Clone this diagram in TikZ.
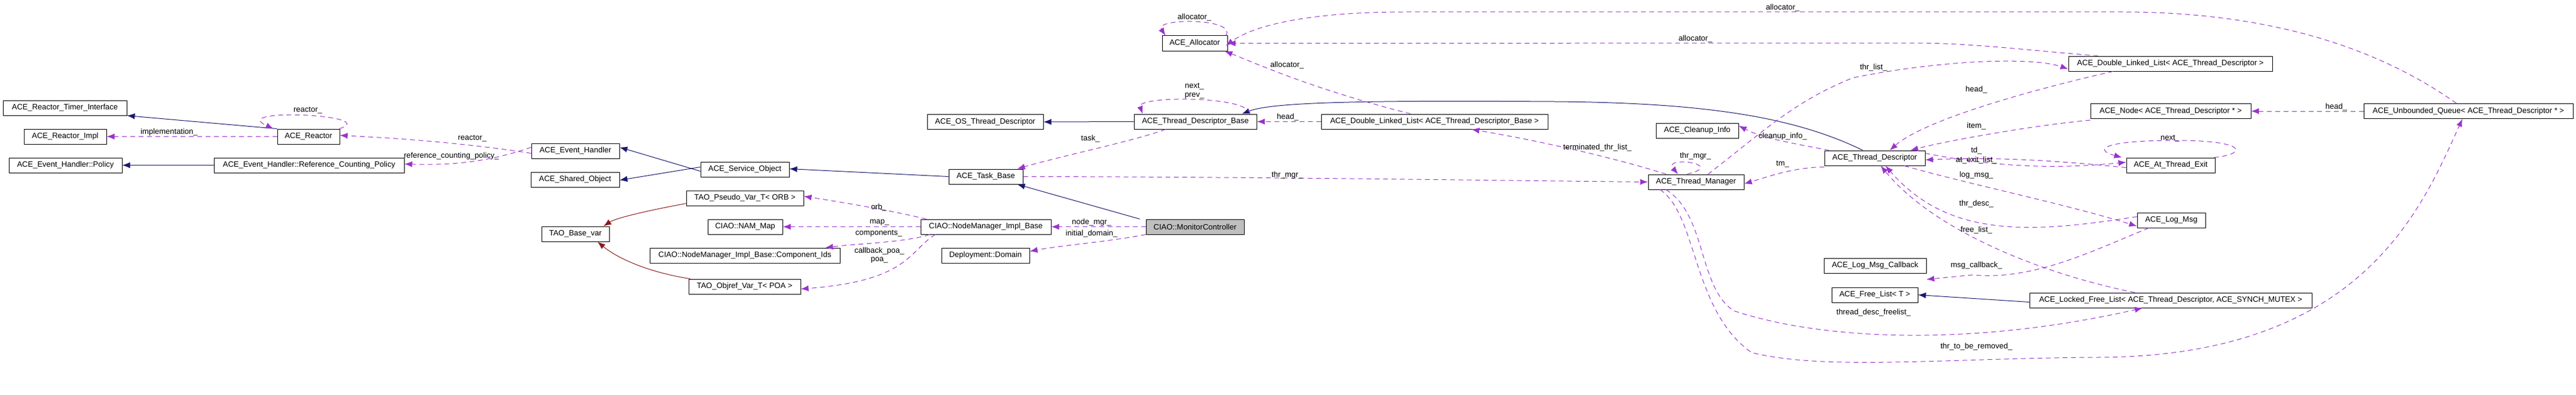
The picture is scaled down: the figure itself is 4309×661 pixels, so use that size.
\documentclass[tikz,border=0pt]{standalone}
\usepackage{fontspec}
\setmainfont{Liberation Sans}
\usetikzlibrary{arrows.meta}
\definecolor{inhc}{RGB}{25,25,112}
\definecolor{tplc}{RGB}{139,26,26}
\definecolor{usec}{RGB}{154,50,205}
\begin{document}
\begin{tikzpicture}[x=1pt,y=-1pt,
  cls/.style={draw,line width=1pt,minimum height=25pt,inner sep=0pt,font=\fontsize{13}{15}\selectfont},
  lbl/.style={inner sep=0pt,font=\fontsize{13}{15}\selectfont},
  inh/.style={draw=inhc,line width=1pt,-{Latex[length=13pt,width=10pt]}},
  tpl/.style={draw=tplc,line width=1pt,-{Latex[length=13pt,width=10pt]}},
  uses/.style={draw=usec,line width=1pt,dash pattern=on 8pt off 6pt,-{Latex[length=13pt,width=10pt]}}]
\useasboundingbox (0,0) rectangle (4309,661);
% classes
\node[cls,minimum width=207pt] (timer) at (108.5,180.5) {ACE\_Reactor\_Timer\_Interface};
\node[cls,minimum width=138pt] (rimpl) at (109,228.5) {ACE\_Reactor\_Impl};
\node[cls,minimum width=104pt] (reactor) at (516,228.5) {ACE\_Reactor};
\node[cls,minimum width=189pt] (policy) at (109.5,276.5) {ACE\_Event\_Handler::Policy};
\node[cls,minimum width=318pt] (rcp) at (517,276.5) {ACE\_Event\_Handler::Reference\_Counting\_Policy};
\node[cls,minimum width=147pt] (evh) at (962.5,252.5) {ACE\_Event\_Handler};
\node[cls,minimum width=148pt] (shared) at (962,300.5) {ACE\_Shared\_Object};
\node[cls,minimum width=148pt] (svc) at (1246,283.5) {ACE\_Service\_Object};
\node[cls,minimum width=194pt] (osdesc) at (1648,204) {ACE\_OS\_Thread\_Descriptor};
\node[cls,minimum width=124pt] (task) at (1649,295.5) {ACE\_Task\_Base};
\node[cls,minimum width=196pt] (pseudo) at (1246,331.5) {TAO\_Pseudo\_Var\_T< ORB >};
\node[cls,minimum width=113pt] (basevar) at (962.5,391.5) {TAO\_Base\_var};
\node[cls,minimum width=125pt] (nam) at (1246.5,379.5) {CIAO::NAM\_Map};
\node[cls,minimum width=318pt] (compids) at (1246,427.5) {CIAO::NodeManager\_Impl\_Base::Component\_Ids};
\node[cls,minimum width=187pt] (objref) at (1245.5,479.5) {TAO\_Objref\_Var\_T< POA >};
\node[cls,minimum width=218pt] (nmib) at (1649,379.5) {CIAO::NodeManager\_Impl\_Base};
\node[cls,minimum width=147pt] (domain) at (1648.5,427.5) {Deployment::Domain};
\node[cls,minimum width=164pt,fill=black!25] (mc) at (1999,379.5) {CIAO::MonitorController};
\node[cls,minimum width=109pt] (alloc) at (1998.5,72.5) {ACE\_Allocator};
\node[cls,minimum width=205pt] (tdb) at (1999.5,203.5) {ACE\_Thread\_Descriptor\_Base};
\node[cls,minimum width=379pt] (dlltdb) at (2399.5,203.5) {ACE\_Double\_Linked\_List< ACE\_Thread\_Descriptor\_Base >};
\node[cls,minimum width=138pt] (cleanup) at (2839,218.5) {ACE\_Cleanup\_Info};
\node[cls,minimum width=160pt] (tm) at (2837,304.5) {ACE\_Thread\_Manager};
\node[cls,minimum width=168pt] (td) at (3136,264.5) {ACE\_Thread\_Descriptor};
\node[cls,minimum width=171pt] (logcb) at (3136.5,444.5) {ACE\_Log\_Msg\_Callback};
\node[cls,minimum width=144pt] (freelist) at (3136,493.5) {ACE\_Free\_List< T >};
\node[cls,minimum width=341pt] (dlltd) at (3630.5,106.5) {ACE\_Double\_Linked\_List< ACE\_Thread\_Descriptor >};
\node[cls,minimum width=268pt] (node) at (3631,186) {ACE\_Node< ACE\_Thread\_Descriptor * >};
\node[cls,minimum width=350pt] (unb) at (4129,186) {ACE\_Unbounded\_Queue< ACE\_Thread\_Descriptor * >};
\node[cls,minimum width=148pt] (atexit) at (3631,276.5) {ACE\_At\_Thread\_Exit};
\node[cls,minimum width=114pt] (logmsg) at (3632,368.5) {ACE\_Log\_Msg};
\node[cls,minimum width=472pt] (locked) at (3631,502.5) {ACE\_Locked\_Free\_List< ACE\_Thread\_Descriptor, ACE\_SYNCH\_MUTEX >};
% inheritance
\draw[inh] (reactor.north west) -- (timer.south east);
\draw[inh] (rcp.west) -- (policy.east);
\draw[inh] ([yshift=-3]svc.west) -- ([yshift=6]evh.east);
\draw[inh] ([yshift=4]svc.west) -- ([yshift=-1]shared.east);
\draw[inh] (task.west) -- ([yshift=1]svc.east);
\draw[inh] ([xshift=-10]mc.north west) -- ([xshift=-10]task.south east);
\draw[inh] (tdb.west) -- (osdesc.east);
\draw[inh] ([xshift=-20]td.north) .. controls (3000,195) and (2850,172) .. (2600,170) .. controls (2300,168) and (2130,170) .. ([xshift=-25]tdb.north east);
\draw[inh] ([yshift=-3]locked.west) -- (freelist.east);
\draw[tpl] ([yshift=4]pseudo.south west) .. controls (1080,353) and (1030,365) .. ([xshift=-10]basevar.north east);
\draw[tpl] ([xshift=3]objref.north west) .. controls (1080,455) and (1030,430) .. ([xshift=-20]basevar.south east);
% uses
\draw[uses] (reactor.west) -- (rimpl.east);
\draw[uses] ([xshift=-1]reactor.north east) .. controls (640,192) and (380,180) .. ([xshift=-6]reactor.north west);
\draw[uses] ([yshift=-4]evh.west) .. controls (780,240) and (680,232) .. ([yshift=2]reactor.east);
\draw[uses] ([yshift=6]evh.west) .. controls (820,270) and (760,277) .. ([yshift=2]rcp.east);
\draw[uses] ([xshift=-3]alloc.north east) .. controls (2070,30) and (1930,30) .. ([xshift=6]alloc.north west);
\draw[uses] ([xshift=-20]unb.north) .. controls (3950,60) and (3750,20) .. (3550,20) -- (2350,20) .. controls (2200,20) and (2100,40) .. ([xshift=-3,yshift=-4]alloc.east);
\draw[uses] ([xshift=50]dlltd.north west) .. controls (3400,85) and (3300,72) .. (3200,72) -- (alloc.east);
\draw[uses] ([xshift=-40]dlltdb.north) .. controls (2200,150) and (2110,110) .. ([xshift=-5]alloc.south east);
\draw[uses] ([xshift=-12]tdb.north east) .. controls (2090,160) and (1900,160) .. ([xshift=15]tdb.north west);
\draw[uses] (dlltdb.west) -- (tdb.east);
\draw[uses] ([xshift=-50]tdb.south) .. controls (1900,235) and (1780,260) .. ([xshift=-10]task.north east);
\draw[uses] (task.east) .. controls (2100,296) and (2500,302) .. (tm.west);
\draw[uses] ([xshift=-50]tm.south) .. controls (2855,360) and (2840,480) .. (2900,520) .. controls (3050,570) and (3300,580) .. ([xshift=-47]locked.south);
\draw[uses] ([xshift=-60]tm.south) .. controls (2840,360) and (2830,520) .. (2930,590) .. controls (3050,620) and (3250,600) .. (3500,598) .. controls (3950,600) and (4050,350) .. ([xshift=-10]unb.south);
\draw[uses] ([xshift=-50]tm.north) .. controls (2720,270) and (2600,240) .. ([xshift=62]dlltdb.south);
\draw[uses] ([xshift=-15]tm.north) .. controls (2890,275) and (2780,260) .. ([xshift=-30]tm.north);
\draw[uses] ([xshift=20]tm.north) .. controls (2950,220) and (3000,170) .. (3100,130) .. controls (3250,100) and (3400,95) .. ([yshift=-9]dlltd.west);
\draw[uses] ([xshift=8]td.north west) .. controls (3000,240) and (2950,232) .. ([yshift=8]cleanup.east);
\draw[uses] ([yshift=-2]td.south west) .. controls (3000,280) and (2960,295) .. ([yshift=-3]tm.east);
\draw[uses] ([xshift=75]dlltd.south west) .. controls (3400,150) and (3220,200) .. ([xshift=25]td.north);
\draw[uses] ([yshift=-2]node.south west) .. controls (3400,210) and (3260,235) .. ([xshift=-25]td.north east);
\draw[uses] ([yshift=-4]atexit.west) .. controls (3450,270) and (3350,262) .. ([yshift=-3]td.east);
\draw[uses] ([yshift=8]td.east) .. controls (3350,282) and (3450,282) .. ([yshift=5]atexit.west);
\draw[uses] ([xshift=-2]atexit.north east) .. controls (3760,258) and (3760,235) .. (3640,235) .. controls (3520,235) and (3500,250) .. ([xshift=-7]atexit.north west);
\draw[uses] ([xshift=-35]td.south east) .. controls (3300,310) and (3450,340) .. ([yshift=-10]logmsg.west);
\draw[uses] ([yshift=6]logmsg.west) .. controls (3400,390) and (3260,400) .. ([xshift=18]td.south);
\draw[uses] ([xshift=-60]locked.north) .. controls (3400,455) and (3230,380) .. ([xshift=10]td.south);
\draw[uses] ([xshift=20]logmsg.south west) .. controls (3500,420) and (3400,470) .. (3300,460) -- ([yshift=-10]logcb.south east);
\draw[uses] (unb.west) -- (node.east);
\draw[uses] ([xshift=10]nmib.north west) .. controls (1500,355) and (1450,345) .. ([yshift=3]pseudo.east);
\draw[uses] (nmib.west) -- (nam.east);
\draw[uses] ([xshift=15]nmib.south west) .. controls (1520,405) and (1430,408) .. ([xshift=-25]compids.north east);
\draw[uses] ([xshift=25]nmib.south west) .. controls (1520,420) and (1520,470) .. ([yshift=-4]objref.east);
\draw[uses] (mc.west) -- (nmib.east);
\draw[uses] (mc.south west) .. controls (1850,405) and (1780,410) .. ([yshift=-6]domain.north east);
% labels
\node[lbl] (l1) at (515,185) {reactor\_};
\node[lbl] (l2) at (283,221) {implementation\_};
\node[lbl] (l3) at (790,232) {reactor\_};
\node[lbl] (l4) at (755,261) {reference\_counting\_policy\_};
\node[lbl] (l5) at (1470,347) {orb\_};
\node[lbl] (l6) at (1471,372) {map\_};
\node[lbl] (l7) at (1470,391) {components\_};
\node[lbl] (l8) at (1471,420) {callback\_poa\_};
\node[lbl] (l9) at (1471,435) {poa\_};
\node[lbl] (l10) at (1826,372) {node\_mgr\_};
\node[lbl] (l11) at (1826,391) {initial\_domain\_};
\node[lbl] (l12) at (1998,29) {allocator\_};
\node[lbl] (l13) at (2153,109) {allocator\_};
\node[lbl] (l14) at (1998,145) {next\_};
\node[lbl] (l15) at (1998,160) {prev\_};
\node[lbl] (l16) at (2154,196) {head\_};
\node[lbl] (l17) at (1824,232) {task\_};
\node[lbl] (l18) at (2153,293) {thr\_mgr\_};
\node[lbl] (l19) at (2982,13) {allocator\_};
\node[lbl] (l20) at (2836,65) {allocator\_};
\node[lbl] (l21) at (3134,113) {thr\_list\_};
\node[lbl] (l22) at (3306,150) {head\_};
\node[lbl] (l23) at (3306,211) {item\_};
\node[lbl] (l24) at (2982,228) {cleanup\_info\_};
\node[lbl] (l25) at (2672,247) {terminated\_thr\_list\_};
\node[lbl] (l26) at (2836,261) {thr\_mgr\_};
\node[lbl] (l27) at (2982,275) {tm\_};
\node[lbl] (l28) at (3306,252) {td\_};
\node[lbl] (l29) at (3306,268) {at\_exit\_list\_};
\node[lbl] (l30) at (3306,293) {log\_msg\_};
\node[lbl] (l31) at (3306,341) {thr\_desc\_};
\node[lbl] (l32) at (3306,385) {free\_list\_};
\node[lbl] (l33) at (3306,444) {msg\_callback\_};
\node[lbl] (l34) at (3134,523) {thread\_desc\_freelist\_};
\node[lbl] (l35) at (3306,580) {thr\_to\_be\_removed\_};
\node[lbl] (l36) at (3908,179) {head\_};
\node[lbl] (l37) at (3630,232) {next\_};
\end{tikzpicture}
\end{document}
